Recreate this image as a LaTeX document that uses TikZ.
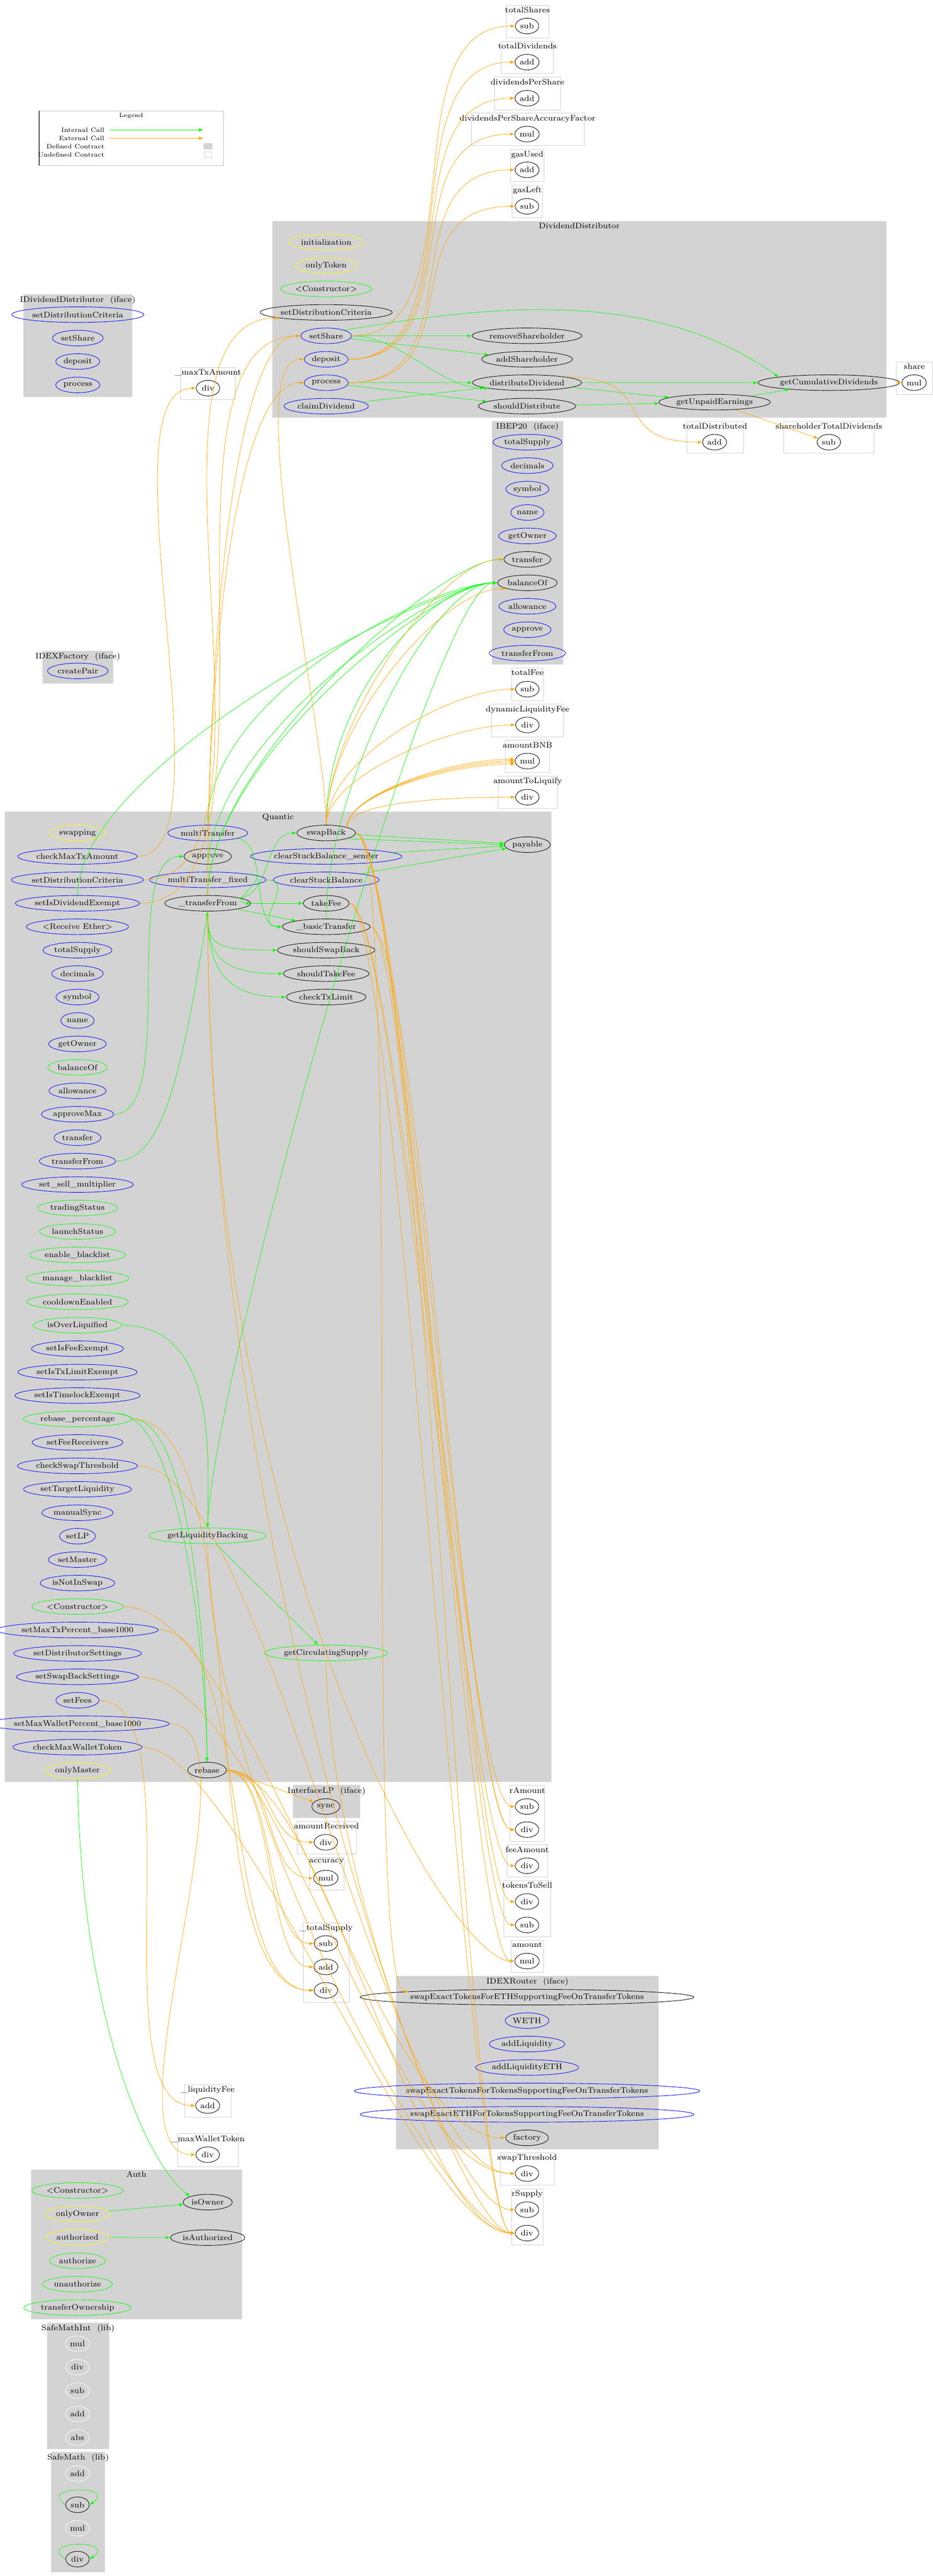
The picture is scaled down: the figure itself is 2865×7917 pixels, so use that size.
\documentclass[tikz,border=0pt]{standalone}
\usepackage{fontspec}
\usepackage{tikz}
\usetikzlibrary{arrows,shapes.geometric}

\definecolor{clustergray}{RGB}{211,211,211}
\definecolor{extcall}{RGB}{255,165,0}
\definecolor{intcall}{RGB}{0,255,0}
\definecolor{funcyellow}{RGB}{255,255,0}

% undefined contract: white box, light border, title on top
\newcommand{\varbox}[5]{%
  \draw[varframe] (#1,#2) rectangle (#3,#4);
  \node[boxtitle] at ({(#1+#3)/2},#2) {#5};}
% defined contract: grey box
\newcommand{\defbox}[5]{%
  \draw[defframe] (#1,#2) rectangle (#3,#4);
  \node[boxtitle] at ({(#1+#3)/2},#2) {#5};}

\tikzset{
  hh/.style={to path={.. controls ([xshift=#1]\tikztostart) and ([xshift=-#1]\tikztotarget) .. (\tikztotarget)}},
  hh/.default=2cm,
  uh/.style={to path={.. controls ([yshift=#1]\tikztostart) and ([xshift=-2cm]\tikztotarget) .. (\tikztotarget)}},
  uh/.default=4cm,
  dh/.style={to path={.. controls ([yshift=-#1]\tikztostart) and ([xshift=-2cm]\tikztotarget) .. (\tikztotarget)}},
  dh/.default=6cm,
  hd/.style={to path={.. controls ([xshift=#1]\tikztostart) and ([yshift=2cm]\tikztotarget) .. (\tikztotarget)}},
  hd/.default=2cm
}

\begin{document}
\begin{tikzpicture}[x=0.01cm,y=-0.01cm,>=latex,font=\fontsize{7}{8}\selectfont]
  \tikzstyle{func} = [ellipse, draw, inner xsep=1pt, inner ysep=0pt, minimum height=0.48cm, minimum width=0.72cm, node distance=0.72cm]
  \tikzstyle{pub} = [func, draw=blue]
  \tikzstyle{intf} = [func, draw=intcall]
  \tikzstyle{modf} = [func, draw=funcyellow]
  \tikzstyle{libf} = [func, draw=white]
  \tikzstyle{op} = [func, fill=white]
  \tikzstyle{varframe} = [draw=black!18, fill=white, line width=0.3pt]
  \tikzstyle{defframe} = [draw=black!12, fill=clustergray, line width=0.3pt]
  \tikzstyle{boxtitle} = [anchor=north, inner sep=0pt, yshift=-0.05cm]
  \tikzstyle{callPortion} = [line width=0.35pt]
  \tikzstyle{icall} = [callPortion, intcall, ->];
  \tikzstyle{ecall} = [callPortion, extcall, ->];

  \useasboundingbox (0,0) rectangle (2865,7917);

  % legend
  \draw[black!25, line width=0.3pt] (120,341) rectangle (686,508);
  \draw[black!70, line width=1pt] (120,341) -- (120,508);
  \node[font=\fontsize{5}{6}\selectfont] at (403,356) {Legend};
  \node[anchor=east, font=\fontsize{5.5}{6}\selectfont] at (333,399) {Internal Call};
  \node[anchor=east, font=\fontsize{5.5}{6}\selectfont] at (333,425) {External Call};
  \node[anchor=east, font=\fontsize{5.5}{6}\selectfont] at (333,450) {Defined Contract};
  \node[anchor=east, font=\fontsize{5.5}{6}\selectfont] at (333,475) {Undefined Contract};
  \coordinate (lgA) at (338,399); \coordinate (lgB) at (625,399);
  \coordinate (lgC) at (338,425); \coordinate (lgD) at (625,425);
  \draw[icall] (lgA) -- (lgB);
  \draw[ecall] (lgC) -- (lgD);
  \fill[clustergray] (626,440) rectangle (652,459);
  \draw[black!18] (628,466) rectangle (650,484);

  % contract boxes
  \defbox{71}{904}{406}{1220}{IDividendDistributor\ \ (iface)}
  \defbox{131}{2000}{347}{2100}{IDEXFactory\ \ (iface)}
  \defbox{836}{680}{2723}{1283}{DividendDistributor}
  \defbox{1511}{1294}{1729}{2042}{IBEP20\ \ (iface)}
  \defbox{15}{2495}{1693}{5476}{Quantic}
  \defbox{900}{5486}{1106}{5587}{InterfaceLP\ \ (iface)}
  \defbox{1217}{6073}{2023}{6605}{IDEXRouter\ \ (iface)}
  \defbox{95}{6668}{743}{7128}{Auth}
  \defbox{144}{7138}{335}{7527}{SafeMathInt\ \ (lib)}
  \defbox{158}{7536}{322}{7905}{SafeMath\ \ (lib)}

  \varbox{1555}{16}{1685}{116}{totalShares}
  \varbox{1540}{127}{1700}{226}{totalDividends}
  \varbox{1519}{237}{1721}{337}{dividendsPerShare}
  \varbox{1447}{348}{1794}{447}{dividendsPerShareAccuracyFactor}
  \varbox{1568}{459}{1671}{558}{gasUsed}
  \varbox{1573}{569}{1667}{668}{gasLeft}
  \varbox{2752}{1112}{2865}{1212}{share}
  \varbox{2110}{1295}{2283}{1393}{totalDistributed}
  \varbox{2407}{1295}{2685}{1393}{shareholderTotalDividends}
  \varbox{555}{1129}{723}{1228}{\_maxTxAmount}
  \varbox{1571}{2053}{1670}{2154}{totalFee}
  \varbox{1510}{2164}{1731}{2264}{dynamicLiquidityFee}
  \varbox{1552}{2275}{1689}{2374}{amountBNB}
  \varbox{1530}{2385}{1712}{2485}{amountToLiquify}
  \varbox{912}{5597}{1094}{5697}{amountReceived}
  \varbox{950}{5708}{1056}{5808}{accuracy}
  \varbox{931}{5909}{1073}{6153}{\_totalSupply}
  \varbox{567}{6407}{710}{6507}{\_liquidityFee}
  \varbox{545}{6558}{732}{6658}{\_maxWalletToken}
  \varbox{1567}{5487}{1673}{5659}{rAmount}
  \varbox{1557}{5669}{1682}{5769}{feeAmount}
  \varbox{1548}{5780}{1691}{5952}{tokensToSell}
  \varbox{1570}{5963}{1669}{6062}{amount}
  \varbox{1537}{6616}{1702}{6716}{swapThreshold}
  \varbox{1571}{6726}{1668}{6899}{rSupply}

  % operations on undefined contracts
  \node[op] (tsSub)    at (1619,80)   {sub};
  \node[op] (tdAdd)    at (1619,191)  {add};
  \node[op] (dpsAdd)   at (1619,302)  {add};
  \node[op] (dpsafMul) at (1619,412)  {mul};
  \node[op] (guAdd)    at (1619,522)  {add};
  \node[op] (glSub)    at (1619,634)  {sub};
  \node[op] (shareMul) at (2808,1176) {mul};
  \node[op] (tDistAdd) at (2195,1359) {add};
  \node[op] (shtdSub)  at (2546,1359) {sub};
  \node[op] (mtaDiv)   at (639,1193)  {div};
  \node[op] (tfSub)    at (1620,2118) {sub};
  \node[op] (dlfDiv)   at (1620,2228) {div};
  \node[op] (abnbMul)  at (1620,2339) {mul};
  \node[op] (atlDiv)   at (1620,2450) {div};
  \node[op] (arDiv)    at (1001,5662) {div};
  \node[op] (accMul)   at (1001,5772) {mul};
  \node[op] (tsupSub)  at (1001,5973) {sub};
  \node[op] (tsupAdd)  at (1001,6045) {add};
  \node[op] (tsupDiv)  at (1001,6117) {div};
  \node[op] (lfAdd)    at (638,6471)  {add};
  \node[op] (mwtDiv)   at (638,6622)  {div};
  \node[op] (raSub)    at (1619,5552) {sub};
  \node[op] (raDiv)    at (1619,5623) {div};
  \node[op] (faDiv)    at (1619,5734) {div};
  \node[op] (ttsDiv)   at (1619,5844) {div};
  \node[op] (ttsSub)   at (1619,5916) {sub};
  \node[op] (amtMul)   at (1619,6027) {mul};
  \node[op] (stDiv)    at (1619,6680) {div};
  \node[op] (rsSub)    at (1619,6791) {sub};
  \node[op] (rsDiv)    at (1619,6863) {div};

  % IDividendDistributor / IDEXFactory
  \node[pub] (iddCrit)            at (239,967) {setDistributionCriteria};
  \node[pub] (iddShare)   [below of=iddCrit] {setShare};
  \node[pub] (iddDeposit) [below of=iddShare] {deposit};
  \node[pub] (iddProcess) [below of=iddDeposit] {process};
  \node[pub] (facPair)            at (239,2062) {createPair};

  % DividendDistributor
  \node[modf] (ddInit)              at (1002,744) {initialization};
  \node[modf] (ddOnlyToken)  [below of=ddInit]      {onlyToken};
  \node[intf] (ddCtor)       [below of=ddOnlyToken] {<Constructor>};
  \node[func] (ddSetCrit)    [below of=ddCtor]      {setDistributionCriteria};
  \node[pub]  (ddSetShare)   [below of=ddSetCrit]   {setShare};
  \node[pub]  (ddDeposit)    [below of=ddSetShare]  {deposit};
  \node[pub]  (ddProcess)    [below of=ddDeposit]   {process};
  \node[pub]  (ddClaim)      [below of=ddProcess]   {claimDividend};
  \node[func] (ddRemove)            at (1619,1032) {removeShareholder};
  \node[func] (ddAdd)        [below of=ddRemove]    {addShareholder};
  \node[func] (ddDistribute) [below of=ddAdd]       {distributeDividend};
  \node[func] (ddShould)     [below of=ddDistribute] {shouldDistribute};
  \node[func] (ddCumul)             at (2546,1176) {getCumulativeDividends};
  \node[func] (ddUnpaid)            at (2195,1236) {getUnpaidEarnings};

  % IBEP20
  \node[pub]  (ibTotal)             at (1620,1359) {totalSupply};
  \node[pub]  (ibDecimals) [below of=ibTotal]    {decimals};
  \node[pub]  (ibSymbol)   [below of=ibDecimals] {symbol};
  \node[pub]  (ibName)     [below of=ibSymbol]   {name};
  \node[pub]  (ibOwner)    [below of=ibName]     {getOwner};
  \node[func] (ibTransfer) [below of=ibOwner]    {transfer};
  \node[func] (ibBalance)  [below of=ibTransfer] {balanceOf};
  \node[pub]  (ibAllow)    [below of=ibBalance]  {allowance};
  \node[pub]  (ibApprove)  [below of=ibAllow]    {approve};
  \node[pub]  (ibTrFrom)   [below of=ibApprove]  {transferFrom};

  % Quantic
  \node[modf] (qSwapping)           at (238,2560) {swapping};
  \node[pub]  (qChkMaxTx)     [below of=qSwapping]   {checkMaxTxAmount};
  \node[pub]  (qSetCrit)      [below of=qChkMaxTx]   {setDistributionCriteria};
  \node[pub]  (qSetDivEx)     [below of=qSetCrit]    {setIsDividendExempt};
  \node[pub]  (qReceive)      [below of=qSetDivEx]   {<Receive Ether>};
  \node[pub]  (qTotal)        [below of=qReceive]    {totalSupply};
  \node[pub]  (qDecimals)     [below of=qTotal]      {decimals};
  \node[pub]  (qSymbol)       [below of=qDecimals]   {symbol};
  \node[pub]  (qName)         [below of=qSymbol]     {name};
  \node[pub]  (qOwner)        [below of=qName]       {getOwner};
  \node[intf] (qBalance)      [below of=qOwner]      {balanceOf};
  \node[pub]  (qAllow)        [below of=qBalance]    {allowance};
  \node[pub]  (qApproveMax)   [below of=qAllow]      {approveMax};
  \node[pub]  (qTransfer)     [below of=qApproveMax] {transfer};
  \node[pub]  (qTrFrom)       [below of=qTransfer]   {transferFrom};
  \node[pub]  (qSellMult)     [below of=qTrFrom]     {set\_sell\_multiplier};
  \node[intf] (qTrading)      [below of=qSellMult]   {tradingStatus};
  \node[intf] (qLaunch)       [below of=qTrading]    {launchStatus};
  \node[intf] (qEnableBl)     [below of=qLaunch]     {enable\_blacklist};
  \node[intf] (qManageBl)     [below of=qEnableBl]   {manage\_blacklist};
  \node[intf] (qCooldown)     [below of=qManageBl]   {cooldownEnabled};
  \node[intf] (qOverLiq)      [below of=qCooldown]   {isOverLiquified};
  \node[pub]  (qFeeEx)        [below of=qOverLiq]    {setIsFeeExempt};
  \node[pub]  (qTxEx)         [below of=qFeeEx]      {setIsTxLimitExempt};
  \node[pub]  (qLockEx)       [below of=qTxEx]       {setIsTimelockExempt};
  \node[intf] (qRebasePct)    [below of=qLockEx]     {rebase\_percentage};
  \node[pub]  (qFeeRecv)      [below of=qRebasePct]  {setFeeReceivers};
  \node[pub]  (qChkSwap)      [below of=qFeeRecv]    {checkSwapThreshold};
  \node[pub]  (qTargetLiq)    [below of=qChkSwap]    {setTargetLiquidity};
  \node[pub]  (qSync)         [below of=qTargetLiq]  {manualSync};
  \node[pub]  (qSetLP)        [below of=qSync]       {setLP};
  \node[pub]  (qSetMaster)    [below of=qSetLP]      {setMaster};
  \node[pub]  (qNotInSwap)    [below of=qSetMaster]  {isNotInSwap};
  \node[intf] (qCtor)         [below of=qNotInSwap]  {<Constructor>};
  \node[pub]  (qMaxTxPct)     [below of=qCtor]       {setMaxTxPercent\_base1000};
  \node[pub]  (qDistSet)      [below of=qMaxTxPct]   {setDistributorSettings};
  \node[pub]  (qSwapSet)      [below of=qDistSet]    {setSwapBackSettings};
  \node[pub]  (qSetFees)      [below of=qSwapSet]    {setFees};
  \node[pub]  (qMaxWalPct)    [below of=qSetFees]    {setMaxWalletPercent\_base1000};
  \node[pub]  (qChkWallet)    [below of=qMaxWalPct]  {checkMaxWalletToken};
  \node[modf] (qOnlyMaster)   [below of=qChkWallet]  {onlyMaster};

  \node[pub]  (qMulti)              at (638,2560) {multiTransfer};
  \node[func] (qApprove)      [below of=qMulti]      {approve};
  \node[pub]  (qMultiFix)     [below of=qApprove]    {multiTransfer\_fixed};
  \node[func] (qTrFromInt)    [below of=qMultiFix]   {\_transferFrom};
  \node[intf] (qLiqBack)            at (638,4720) {getLiquidityBacking};
  \node[func] (qRebase)             at (636,5440) {rebase};

  \node[func] (qSwapBack)           at (1002,2560) {swapBack};
  \node[pub]  (qClearSender)  [below of=qSwapBack]   {clearStuckBalance\_sender};
  \node[pub]  (qClear)        [below of=qClearSender] {clearStuckBalance};
  \node[func] (qTakeFee)      [below of=qClear]      {takeFee};
  \node[func] (qBasic)        [below of=qTakeFee]    {\_basicTransfer};
  \node[func] (qShouldSwap)   [below of=qBasic]      {shouldSwapBack};
  \node[func] (qShouldFee)    [below of=qShouldSwap] {shouldTakeFee};
  \node[func] (qChkTx)        [below of=qShouldFee]  {checkTxLimit};
  \node[intf] (qCircSupply)         at (1002,5080) {getCirculatingSupply};
  \node[func] (qPayable)            at (1620,2596) {payable};

  % InterfaceLP / IDEXRouter
  \node[func] (lpSync)              at (1001,5552) {sync};
  \node[func] (rtSwapETH)           at (1619,6138) {swapExactTokensForETHSupportingFeeOnTransferTokens};
  \node[pub]  (rtWETH)       [below of=rtSwapETH]   {WETH};
  \node[pub]  (rtAddLiq)     [below of=rtWETH]      {addLiquidity};
  \node[pub]  (rtAddLiqETH)  [below of=rtAddLiq]    {addLiquidityETH};
  \node[pub]  (rtSwapTok)    [below of=rtAddLiqETH] {swapExactTokensForTokensSupportingFeeOnTransferTokens};
  \node[pub]  (rtSwapETHFor) [below of=rtSwapTok]   {swapExactETHForTokensSupportingFeeOnTransferTokens};
  \node[func] (rtFactory)    [below of=rtSwapETHFor] {factory};

  % Auth
  \node[intf] (auCtor)              at (238,6732) {<Constructor>};
  \node[modf] (auOnlyOwner)  [below of=auCtor]      {onlyOwner};
  \node[modf] (auAuthorized) [below of=auOnlyOwner] {authorized};
  \node[intf] (auAuthorize)  [below of=auAuthorized] {authorize};
  \node[intf] (auUnauth)     [below of=auAuthorize] {unauthorize};
  \node[intf] (auTransfer)   [below of=auUnauth]    {transferOwnership};
  \node[func] (auIsOwner)           at (638,6768) {isOwner};
  \node[func] (auIsAuth)            at (638,6877) {isAuthorized};

  % libraries
  \node[libf] (smiMul)              at (238,7203) {mul};
  \node[libf] (smiDiv)       [below of=smiMul]      {div};
  \node[libf] (smiSub)       [below of=smiDiv]      {sub};
  \node[libf] (smiAdd)       [below of=smiSub]      {add};
  \node[libf] (smiAbs)       [below of=smiAdd]      {abs};
  \node[libf] (smAdd)               at (238,7602) {add};
  \node[func] (smSub)        [below of=smAdd, node distance=0.96cm] {sub};
  \node[libf] (smMul)        [below of=smSub]       {mul};
  \node[func] (smDiv)        [below of=smMul, node distance=0.95cm] {div};

  % internal calls
  \path (ddSetShare) edge[icall] (ddRemove)
        (ddSetShare) edge[icall] (ddAdd)
        (ddSetShare.east) edge[icall, hh=1.5cm] (ddDistribute.south west)
        (ddProcess) edge[icall] (ddDistribute)
        (ddProcess) edge[icall] (ddShould)
        (ddClaim) edge[icall] (ddDistribute)
        (ddDistribute) edge[icall] (ddCumul)
        (ddDistribute) edge[icall] (ddUnpaid)
        (ddShould) edge[icall] (ddUnpaid)
        (ddUnpaid) edge[icall] (ddCumul);
  \draw[icall] (ddSetShare.north east) .. controls (1500,940) and (2000,880) .. (ddCumul.north west);
  \path (qMulti.south east) edge[icall, hh=1cm] (qBasic.west)
        (qMultiFix.east) edge[icall, hh=1cm] (qBasic.west)
        (qMultiFix.north east) edge[icall, hh=0.8cm] (qTrFromInt.east)
        (qTrFromInt.north east) edge[icall, hh=1cm] (qSwapBack.west)
        (qTrFromInt) edge[icall] (qTakeFee)
        (qTrFromInt) edge[icall] (qBasic)
        (qTrFromInt.south) edge[icall, dh=1cm] (qShouldSwap.west)
        (qTrFromInt.south) edge[icall, dh=1.3cm] (qShouldFee.west)
        (qTrFromInt.south) edge[icall, dh=1.6cm] (qChkTx.west)
        (qSwapBack) edge[icall] (qPayable)
        (qSwapBack.south east) edge[icall] (qPayable.west)
        (qClearSender) edge[icall] (qPayable)
        (qClear) edge[icall] (qPayable)
        (qApproveMax.east) edge[icall, hh=2cm] (qApprove.west)
        (qOverLiq.east) edge[icall, hd=3cm] (qLiqBack.north)
        (qLiqBack) edge[icall] (qCircSupply)
        (qRebasePct.east) edge[icall, hd=2cm] (qRebase.north)
        (qRebasePct.north east) edge[icall, hd=2.2cm] (qRebase.north)
        (auOnlyOwner) edge[icall] (auIsOwner)
        (auAuthorized) edge[icall] (auIsAuth);
  \draw[icall] (qOnlyMaster.south) .. controls (250,6200) and (450,6650) .. (auIsOwner.north west);
  \draw[icall] (qTrFrom.east) .. controls (500,3567) and (560,3300) .. (qTrFromInt.south);
  \draw[icall] (smSub.west) .. controls +(-90,-60) and +(90,-60) .. (smSub.east);
  \draw[icall] (smDiv.west) .. controls +(-90,-60) and +(90,-60) .. (smDiv.east);
  \foreach \src in {qMulti,qMultiFix,qTrFromInt,qSwapBack,qSetDivEx,qLiqBack,qBasic}
    \draw[icall] (\src.north) to[uh] (ibBalance.west);
  \draw[icall] (qTrFromInt.north) to[uh] (ibTransfer.west);

  % external calls
  \path (ddCumul) edge[ecall] (shareMul)
        (ddUnpaid) edge[ecall] (shtdSub)
        (ddDistribute.north east) edge[ecall, hh=3cm] (tDistAdd.west)
        (ddSetShare.east) edge[ecall, hh=4cm] (tsSub.west)
        (ddDeposit.east) edge[ecall, hh=4cm] (tdAdd.west)
        (ddDeposit.east) edge[ecall, hh=4cm] (dpsAdd.west)
        (ddDeposit.east) edge[ecall, hh=4cm] (dpsafMul.west)
        (ddProcess.east) edge[ecall, hh=4cm] (guAdd.west)
        (ddProcess.east) edge[ecall, hh=4cm] (glSub.west)
        (qChkMaxTx.east) edge[ecall, hh=3cm] (mtaDiv.west)
        (qSetCrit.east) edge[ecall, hh=5cm] (ddSetCrit.south west)
        (qSetDivEx.east) edge[ecall, hh=5cm] (ddSetShare.west)
        (qTrFromInt.north) edge[ecall, uh=8cm] (ddSetShare.west)
        (qTrFromInt.north) edge[ecall, uh=8cm] (ddProcess.west)
        (qSwapBack.north) edge[ecall, uh=3cm] (ddDeposit.west)
        (qSwapBack.north) edge[ecall, uh=3cm] (ibTransfer.west)
        (qSwapBack.north) edge[ecall, uh=3cm] (ibBalance.south west)
        (qSwapBack.north) edge[ecall, uh=2cm] (tfSub.west)
        (qSwapBack.north) edge[ecall, uh=1.5cm] (dlfDiv.west)
        (qSwapBack.north east) edge[ecall, uh=0.8cm] (atlDiv.west)
        (qRebase.east) edge[ecall] (lpSync)
        (qRebase.east) edge[ecall, hh=1.5cm] (arDiv.west)
        (qRebase.east) edge[ecall, hh=1.5cm] (accMul.west)
        (qRebase.east) edge[ecall, hh=1.5cm] (tsupSub.west)
        (qRebase.east) edge[ecall, hh=1.5cm] (tsupAdd.west)
        (qRebase.east) edge[ecall, hh=3cm] (rsDiv.west)
        (qRebasePct.east) edge[ecall, hh=4cm] (tsupDiv.west)
        (qMaxTxPct.east) edge[ecall, hh=3cm] (tsupDiv.west)
        (qChkWallet.east) edge[ecall, hh=3cm] (rsDiv.west)
        (qSetFees.east) edge[ecall, hh=3cm] (lfAdd.west)
        (qMaxWalPct.east) edge[ecall, hh=3cm] (mwtDiv.west)
        (qSwapSet.east) edge[ecall, hh=4cm] (stDiv.west)
        (qChkSwap.east) edge[ecall, hh=4cm] (stDiv.west)
        (qCtor.east) edge[ecall, hh=4cm] (rtFactory.west)
        (qLiqBack.south) edge[ecall, dh=8cm] (rsDiv.west)
        (qCircSupply.south) edge[ecall, dh=6cm] (rsSub.west)
        (qTakeFee.east) edge[ecall, hh=1.5cm] (raSub.west)
        (qTakeFee.east) edge[ecall, hh=1.5cm] (faDiv.west)
        (qTakeFee.east) edge[ecall, hh=1.5cm] (rsDiv.west)
        (qBasic.east) edge[ecall, hh=1.5cm] (raDiv.west)
        (qBasic.east) edge[ecall, hh=1.5cm] (rsDiv.west)
        (qSwapBack.east) edge[ecall, hh=1.5cm] (raDiv.west)
        (qSwapBack.east) edge[ecall, hh=1.5cm] (ttsDiv.west)
        (qSwapBack.east) edge[ecall, hh=1.5cm] (ttsSub.west)
        (qSwapBack.east) edge[ecall, hh=1.5cm] (amtMul.west)
        (qSwapBack.east) edge[ecall, hh=1.5cm] (rtSwapETH.north west)
        (qTrFromInt.south) edge[ecall, dh=20cm] (amtMul.west)
        (qTrFromInt.south) edge[ecall, dh=20cm] (rsDiv.west);
  \foreach \k in {0,1,2,3}
    \draw[ecall] (qSwapBack.north east) to[uh=1cm] ([yshift=\k*-0.05cm+0.06cm]abnbMul.west);
\end{tikzpicture}
\end{document}
